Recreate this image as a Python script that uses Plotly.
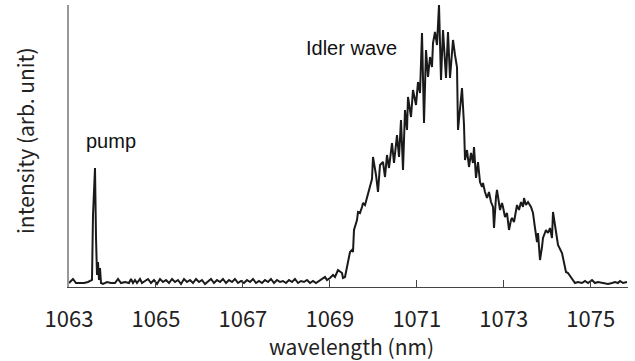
import plotly.graph_objects as go

wavelength = [
    1063.000, 1063.046, 1063.092, 1063.161, 1063.253, 1063.345, 1063.437, 1063.483,
    1063.529, 1063.552, 1063.575, 1063.598, 1063.621, 1063.644, 1063.667, 1063.690,
    1063.713, 1063.736, 1063.782, 1063.874, 1063.966, 1064.058, 1064.127, 1064.196,
    1064.288, 1064.380, 1064.426, 1064.472, 1064.518, 1064.564, 1064.633, 1064.679,
    1064.748, 1064.817, 1064.886, 1064.955, 1065.024, 1065.093, 1065.162, 1065.231,
    1065.300, 1065.369, 1065.438, 1065.507, 1065.576, 1065.645, 1065.714, 1065.783,
    1065.852, 1065.921, 1065.990, 1066.059, 1066.128, 1066.197, 1066.266, 1066.335,
    1066.404, 1066.473, 1066.542, 1066.611, 1066.680, 1066.749, 1066.818, 1066.887,
    1066.956, 1067.025, 1067.094, 1067.163, 1067.232, 1067.301, 1067.370, 1067.439,
    1067.508, 1067.577, 1067.646, 1067.715, 1067.784, 1067.853, 1067.922, 1067.991,
    1068.060, 1068.129, 1068.198, 1068.267, 1068.336, 1068.405, 1068.474, 1068.543,
    1068.612, 1068.681, 1068.750, 1068.819, 1068.888, 1068.934, 1069.003, 1069.072,
    1069.118, 1069.187, 1069.233, 1069.279, 1069.302, 1069.348, 1069.394, 1069.417,
    1069.463, 1069.509, 1069.532, 1069.555, 1069.624, 1069.647, 1069.693, 1069.739,
    1069.762, 1069.808, 1069.854, 1069.877, 1069.923, 1069.969, 1069.992, 1070.061,
    1070.107, 1070.153, 1070.222, 1070.268, 1070.314, 1070.360, 1070.429, 1070.475,
    1070.544, 1070.590, 1070.636, 1070.682, 1070.728, 1070.774, 1070.797, 1070.866,
    1070.912, 1070.981, 1071.027, 1071.073, 1071.119, 1071.165, 1071.211, 1071.257,
    1071.303, 1071.349, 1071.372, 1071.418, 1071.464, 1071.510, 1071.556, 1071.602,
    1071.671, 1071.717, 1071.763, 1071.832, 1071.878, 1071.924, 1071.947, 1071.993,
    1072.039, 1072.085, 1072.108, 1072.154, 1072.200, 1072.246, 1072.292, 1072.315,
    1072.361, 1072.407, 1072.453, 1072.499, 1072.522, 1072.568, 1072.614, 1072.660,
    1072.706, 1072.752, 1072.775, 1072.821, 1072.844, 1072.913, 1072.959, 1072.982,
    1073.028, 1073.074, 1073.120, 1073.166, 1073.189, 1073.235, 1073.304, 1073.350,
    1073.396, 1073.442, 1073.465, 1073.511, 1073.557, 1073.626, 1073.672, 1073.718,
    1073.764, 1073.787, 1073.833, 1073.879, 1073.902, 1073.971, 1074.017, 1074.063,
    1074.109, 1074.132, 1074.201, 1074.247, 1074.339, 1074.385, 1074.431, 1074.477,
    1074.546, 1074.592, 1074.638, 1074.707, 1074.799, 1074.868, 1074.937, 1075.029,
    1075.098, 1075.167, 1075.259, 1075.328, 1075.397, 1075.489, 1075.558, 1075.627,
    1075.673, 1075.742, 1075.834,
]

intensity = [
    4, 6, 8, 4, 4, 4, 5, 6,
    7, 72, 97, 119, 50, 12, 25, 7,
    19, 4, 3, 5, 4, 4, 8, 4,
    5, 4, 8, 4, 7, 4, 8, 4,
    6, 8, 4, 7, 3, 8, 5, 7,
    4, 8, 5, 7, 3, 8, 5, 7,
    4, 8, 5, 7, 3, 6, 8, 4,
    7, 5, 8, 4, 7, 5, 8, 4,
    6, 4, 7, 5, 8, 4, 6, 4,
    7, 5, 8, 4, 7, 5, 6, 4,
    7, 5, 8, 4, 6, 5, 7, 4,
    6, 4, 6, 8, 10, 7, 9, 12,
    10, 17, 15, 14, 9, 10, 20, 24,
    35, 37, 35, 57, 67, 75, 74, 80,
    84, 82, 90, 94, 102, 108, 130, 112,
    95, 122, 125, 110, 132, 119, 144, 124,
    152, 130, 167, 117, 177, 157, 190, 170,
    197, 182, 205, 194, 254, 164, 237, 210,
    230, 220, 244, 255, 242, 282, 207, 257,
    209, 255, 209, 247, 232, 220, 157, 177,
    199, 162, 127, 137, 120, 134, 124, 140,
    109, 125, 105, 100, 104, 95, 89, 95,
    85, 80, 59, 90, 97, 77, 84, 80,
    70, 74, 57, 67, 69, 65, 82, 77,
    85, 80, 89, 82, 85, 80, 74, 59,
    45, 54, 27, 40, 49, 57, 54, 59,
    49, 75, 52, 42, 34, 25, 15, 14,
    10, 7, 4, 5, 4, 6, 4, 7,
    4, 5, 4, 4, 3, 4, 5, 4,
    6, 4, 5,
]

tick_values = [1063, 1065, 1067, 1069, 1071, 1073, 1075]
tick_labels = ["1063", "1065", "1067", "1069", "1071", "1073", "1075"]

fig = go.Figure()
fig.add_trace(go.Scatter(
    x=wavelength, y=intensity, mode="lines",
    line=dict(color="#1a1a1a", width=2),
    hoverinfo="skip", showlegend=False,
))

axis_font = "Noto Sans CJK JP, DejaVu Sans, sans-serif"
label_font = "Liberation Sans, Arial, sans-serif"

fig.update_layout(
    width=635, height=361,
    margin=dict(l=69, r=7, t=5, b=74),
    paper_bgcolor="white", plot_bgcolor="white",
    xaxis=dict(
        range=[1063, 1075.857], showgrid=False, zeroline=False,
        showline=True, linecolor="#444", linewidth=1,
        tickmode="array", tickvals=tick_values, ticktext=tick_labels,
        ticks="inside", ticklen=7, tickcolor="#444", tickwidth=1,
        tickfont=dict(family=axis_font, size=22, color="#222"),
        ticklabelstandoff=13,
    ),
    yaxis=dict(
        range=[0, 282], showgrid=False, zeroline=False,
        showline=True, linecolor="#999", linewidth=1.5,
        showticklabels=False, ticks="",
    ),
    annotations=[
        dict(text="pump", x=1063.966, y=146, xref="x", yref="y",
             showarrow=False, font=dict(family=label_font, size=20, color="#111")),
        dict(text="Idler wave", x=1069.486, y=239, xref="x", yref="y",
             showarrow=False, font=dict(family=label_font, size=20, color="#111")),
        dict(text="intensity (arb. unit)", x=-0.079, y=0.521, xref="paper", yref="paper",
             textangle=-90, showarrow=False, xanchor="center", yanchor="middle",
             font=dict(family=axis_font, size=21, color="#222")),
        dict(text="wavelength (nm)", x=0.506, y=-0.21, xref="paper", yref="paper",
             showarrow=False, xanchor="center", yanchor="middle",
             font=dict(family=axis_font, size=21, color="#222")),
    ],
)

fig.write_html(
    "out.html",
    config={"displayModeBar": False},
    post_script="document.body.style.margin='0';document.body.style.overflow='hidden';",
)
